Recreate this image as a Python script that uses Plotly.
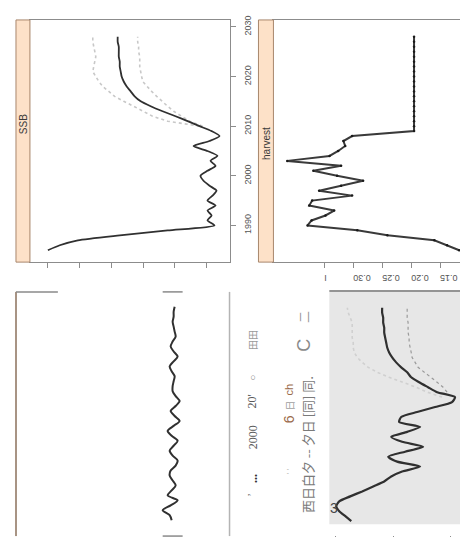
import plotly.graph_objects as go

W, H = 468, 537

years = list(range(1985, 2029))
proj_years = list(range(2010, 2029))

# SSB (kt) - main estimate and projection band
ssb = [120.0, 112.5, 101.1, 74.7, 44.5, 15.0, 19.4, 16.8, 19.4, 14.3,
       19.4, 16.2, 13.7, 18.1, 21.9, 23.8, 19.4, 14.3, 17.5, 13.1,
       19.4, 28.2, 18.1, 11.8, 16.8, 24.4, 31.9, 39.5, 47.7, 55.2,
       61.5, 65.3, 67.8, 70.3, 72.2, 73.5, 74.1, 74.7, 74.7, 75.3,
       75.3, 75.3, 76.0, 76.0]
ssb_upper = [24.4, 44.5, 54.0, 59.6, 65.9, 72.2, 77.9, 81.6, 85.4, 87.9,
             89.8, 91.7, 91.1, 90.4, 89.8, 90.4, 91.1, 91.7, 91.7]
ssb_lower = [22.5, 30.7, 35.7, 40.7, 44.5, 48.3, 51.4, 54.6, 57.7, 60.2,
             60.9, 61.5, 62.1, 62.1, 62.1, 62.8, 62.8, 63.4, 63.4]

# harvest rate
harvest = [0.117, 0.138, 0.160, 0.241, 0.293, 0.379, 0.372, 0.348, 0.333, 0.376,
           0.371, 0.302, 0.359, 0.321, 0.283, 0.328, 0.369, 0.321, 0.414, 0.341,
           0.326, 0.314, 0.317, 0.302, 0.195, 0.195, 0.195, 0.195, 0.195, 0.195,
           0.195, 0.195, 0.195, 0.195, 0.195, 0.195, 0.195, 0.195, 0.195, 0.195,
           0.195, 0.195, 0.195, 0.195]

# residual-like series (bottom left)
resid = [-0.125, -0.375, -1.25, -0.25, 0.625, -0.625, -0.125, 0.375, 0.0, -0.375,
         -0.25, 0.375, 0.625, 0.0, -0.375, 0.125, 0.625, -0.125, -0.625, 0.125,
         0.875, 0.25, -0.25, 0.375, 0.875, 0.375, 0.0, 0.0, 0.125, 0.25,
         -0.125, -0.375, 0.125, 0.625, 0.125, -0.25, 0.0, 0.375, 0.25, 0.125,
         0.0, 0.125, 0.125, 0.25]

# relative biomass (bottom right)
rel_b = [1.365, 1.417, 1.470, 1.496, 1.470, 1.374, 1.270, 1.174, 1.078, 1.017,
         0.922, 0.765, 0.965, 1.043, 0.896, 0.739, 0.922, 1.017, 0.878, 0.765,
         0.948, 0.930, 0.791, 0.635, 0.487, 0.461, 0.617, 0.696, 0.774, 0.843,
         0.878, 0.930, 0.974, 1.009, 1.035, 1.052, 1.061, 1.070, 1.078, 1.078,
         1.087, 1.087, 1.096, 1.096]
rel_upper = [0.574, 0.704, 0.800, 0.922, 1.035, 1.139, 1.217, 1.270, 1.313, 1.339,
             1.348, 1.348, 1.357, 1.357, 1.357, 1.357, 1.374, 1.391, 1.400]
rel_lower_years = list(range(2011, 2029))
rel_lower = [0.530, 0.565, 0.617, 0.670, 0.730, 0.783, 0.809, 0.835, 0.843, 0.852,
             0.861, 0.861, 0.870, 0.870, 0.870, 0.878, 0.878, 0.878]

year_ticks = [1990, 2000, 2010, 2020, 2030]
ssb_ticks = [20, 40, 60, 80, 100, 120]
harvest_ticks = [0.15, 0.20, 0.25, 0.30, 0.35]
harvest_labels = ["0.15", "0.20", "0.25", "0.30", "I"]
rel_ticks = [0.5, 1.0, 1.5]


def px(x):
    return x / W


def py(y):
    return 1 - y / H


frame = "#8c8c8c"
dark = "#303030"
font_tick = dict(family="Liberation Sans", size=9, color="#555555")

fig = go.Figure()

# top left: SSB
fig.add_trace(go.Scatter(x=ssb_upper, y=proj_years, mode="lines", xaxis="x", yaxis="y",
                         line=dict(color="#c8c8c8", width=1.6, dash="dot")))
fig.add_trace(go.Scatter(x=ssb_lower, y=proj_years, mode="lines", xaxis="x", yaxis="y",
                         line=dict(color="#c8c8c8", width=1.6, dash="dot")))
fig.add_trace(go.Scatter(x=ssb, y=years, mode="lines", xaxis="x", yaxis="y",
                         line=dict(color=dark, width=1.8, shape="spline", smoothing=0.6)))

# top right: harvest
fig.add_trace(go.Scatter(x=harvest, y=years, mode="lines+markers", xaxis="x2", yaxis="y2",
                         line=dict(color="#3a3a3a", width=2),
                         marker=dict(color="#1a1a1a", size=2.5)))

# bottom left: wiggle
fig.add_trace(go.Scatter(x=resid, y=years, mode="lines", xaxis="x3", yaxis="y3",
                         line=dict(color=dark, width=2, shape="spline", smoothing=0.8)))

# bottom right: relative biomass
fig.add_trace(go.Scatter(x=rel_upper, y=proj_years, mode="lines", xaxis="x4", yaxis="y4",
                         line=dict(color="#d0d0d0", width=1.6, dash="dot")))
fig.add_trace(go.Scatter(x=rel_lower, y=rel_lower_years, mode="lines", xaxis="x4", yaxis="y4",
                         line=dict(color="#9a9a9a", width=1.2, dash="dot")))
fig.add_trace(go.Scatter(x=rel_b, y=years, mode="lines", xaxis="x4", yaxis="y4",
                         line=dict(color=dark, width=2.2, shape="spline", smoothing=0.6)))

box = dict(showline=True, mirror=True, linecolor=frame, linewidth=1,
           showgrid=False, zeroline=False, ticks="outside", ticklen=5,
           tickcolor=frame, tickfont=font_tick)

fig.update_layout(
    width=W, height=H,
    margin=dict(l=0, r=0, t=0, b=0),
    paper_bgcolor="white", plot_bgcolor="rgba(0,0,0,0)",
    showlegend=False,
    xaxis=dict(domain=[px(22), px(222)], range=[131.3, 5.5], anchor="y",
               tickvals=ssb_ticks, showticklabels=False, **box),
    yaxis=dict(domain=[py(252), py(8)], range=[1982.6, 2031.4], anchor="x", side="right",
               tickvals=year_ticks, tickangle=-90, ticklabelstandoff=5, **box),
    xaxis2=dict(domain=[px(266), px(464)], range=[0.4379, 0.0966], anchor="y2",
                tickvals=harvest_ticks, ticktext=harvest_labels, tickangle=180,
                ticklabelstandoff=5, **box),
    yaxis2=dict(domain=[py(252), py(8)], range=[1982.6, 2031.4], anchor="x2", side="right",
                tickvals=year_ticks, showticklabels=False, **box),
    xaxis3=dict(domain=[px(8), px(222)], range=[-19.625, 7.125], anchor="y3", visible=False),
    yaxis3=dict(domain=[py(528), py(282)], range=[1981.8, 2031.0], anchor="x3", visible=False),
    xaxis4=dict(domain=[px(322), px(464)], range=[1.5565, 0.3217], anchor="free",
                position=py(527), tickvals=rel_ticks, showticklabels=False,
                showline=False, showgrid=False, zeroline=False, ticks="outside",
                ticklen=9, tickcolor=frame),
    yaxis4=dict(domain=[py(516), py(282)], range=[1984.4, 2031.2], anchor="x4", side="right",
                tickvals=year_ticks, showticklabels=False, showline=True,
                linecolor=frame, showgrid=False, zeroline=False, ticks="outside",
                ticklen=4, tickcolor=frame),
)

strip_fill = "#fde1c8"
strip_line = "#a8866c"
shapes = [
    dict(type="rect", xref="paper", yref="paper", x0=px(8), x1=px(22), y0=py(252), y1=py(8),
         fillcolor=strip_fill, line=dict(color=strip_line, width=1)),
    dict(type="rect", xref="paper", yref="paper", x0=px(251), x1=px(266), y0=py(252), y1=py(8),
         fillcolor=strip_fill, line=dict(color=strip_line, width=1)),
    # bottom right shaded panel
    dict(type="rect", xref="paper", yref="paper", x0=px(322), x1=px(464), y0=py(516), y1=py(282),
         fillcolor="#e7e7e7", line=dict(width=0), layer="below"),
    dict(type="line", xref="paper", yref="paper", x0=px(322), x1=px(464), y0=py(281), y1=py(281),
         line=dict(color="#707070", width=1.5)),
    dict(type="line", xref="paper", yref="paper", x0=px(464), x1=px(464), y0=py(528), y1=py(282),
         line=dict(color="#b0b0b0", width=1)),
    # bottom left frame pieces
    dict(type="line", xref="paper", yref="paper", x0=px(8), x1=px(8), y0=py(528), y1=py(282),
         line=dict(color="#a89484", width=2)),
    dict(type="line", xref="paper", yref="paper", x0=px(8), x1=px(50), y0=py(282), y1=py(282),
         line=dict(color="#8a8a8a", width=1.5)),
    dict(type="line", xref="paper", yref="paper", x0=px(155), x1=px(175), y0=py(282), y1=py(282),
         line=dict(color="#8a8a8a", width=1.5)),
    dict(type="line", xref="paper", yref="paper", x0=px(155), x1=px(175), y0=py(528), y1=py(528),
         line=dict(color="#8a8a8a", width=1.5)),
    dict(type="line", xref="paper", yref="paper", x0=px(222), x1=px(222), y0=py(528), y1=py(282),
         line=dict(color="#b4b4b4", width=1.5)),
]
fig.update_layout(shapes=shapes)

serif = "Liberation Serif"
cjk = "Noto Sans CJK SC"


def note(text, x, y, size=10, color="#555555", family="Liberation Sans", angle=-90):
    fig.add_annotation(text=text, x=px(x), y=py(y), xref="paper", yref="paper",
                       xanchor="center", yanchor="middle",
                       showarrow=False, textangle=angle,
                       font=dict(family=family, size=size, color=color))


note("SSB", 15, 113, size=10, color="#3a3a3a")
note("harvest", 258.5, 132, size=10, color="#3a3a3a")

# scanned text remnants in the lower middle
note("田田", 245, 330, size=10, color="#9a9a9a", family=cjk)
note("○", 245, 368, size=10, color="#8a8a8a", family=serif)
note("20'", 245, 392, size=12, color="#5a5a5a", family=serif)
note("2000", 245, 428, size=12, color="#5a5a5a", family=serif)
note("<b>...</b>", 246, 470, size=12, color="#333333", family=serif)
note("’", 244, 486, size=11, color="#666666", family=serif)
note("6", 282, 410, size=14, color="#9a6a4a")
note("日", 282, 396, size=10, color="#a0a0a0", family=cjk)
note("ch", 282, 380, size=11, color="#9a6a4a")
note("' '", 282, 462, size=8, color="#999999")
note("西日白夕 -- 夕日 [同] 同.", 300, 436, size=13, color="#7a7a7a", family=cjk)
note("C", 297, 336, size=18, color="#8a8a8a")
note("二", 296, 307, size=12, color="#9a9a9a", family=cjk)
note("3", 327, 500, size=14, color="#444444", angle=0)

fig.write_html("out.html")
